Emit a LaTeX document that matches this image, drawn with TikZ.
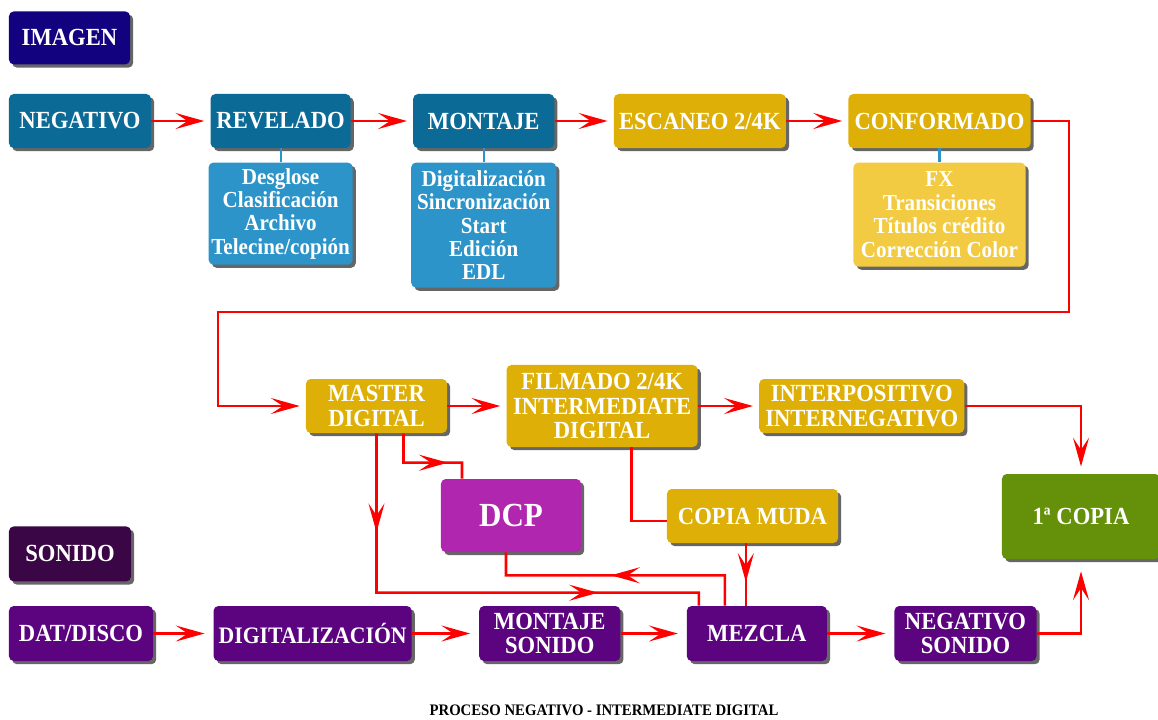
\documentclass[tikz,border=0pt]{standalone}
\usepackage{fontspec}
\setmainfont{Liberation Serif}[FakeStretch=0.92]
\usetikzlibrary{positioning,shadows,arrows.meta,decorations.markings}

\definecolor{imgnavy}{RGB}{18,2,128}
\definecolor{negblue}{RGB}{12,106,150}
\definecolor{skyblue}{RGB}{44,148,200}
\definecolor{gold}{RGB}{222,175,6}
\definecolor{palegold}{RGB}{242,203,66}
\definecolor{dcpmag}{RGB}{176,38,174}
\definecolor{copygreen}{RGB}{100,144,10}
\definecolor{sndpurple}{RGB}{92,4,128}
\definecolor{sndhead}{RGB}{58,6,70}

\tikzset{
  box/.style = {rounded corners=0.12cm, text=white, align=center, inner sep=0pt,
    font=\bfseries\fontsize{17.5}{17.5}\selectfont, minimum height=1.35cm,
    drop shadow={shadow xshift=0.08cm, shadow yshift=-0.08cm, fill=black!80, opacity=0.75}},
  subbox/.style = {box, font=\bfseries\fontsize{16.3}{16.6}\selectfont},
  wire/.style = {red, line width=1.8pt},
  flow/.style = {wire, ->, shorten >=0.15cm},
  midtip/.style = {postaction={decorate, decoration={markings, mark=at position #1 with {\arrow{>}}}}},
  stem/.style = {draw=skyblue, line width=1.5pt}
}

\begin{document}
\begin{tikzpicture}[x=0.025cm, y=-0.025cm, >={Stealth[length=0.72cm, width=0.4cm, inset=0.3cm]}]
\useasboundingbox (0,0) rectangle (1158,719);

\node[box, fill=negblue, minimum width=3.55cm] (negativo) at (80,121) {NEGATIVO};
\node[box, fill=imgnavy, minimum width=3.025cm, minimum height=1.325cm, above=0.725cm of negativo.north west, anchor=south west] (imagen) {IMAGEN};
\node[box, fill=negblue, minimum width=3.5cm, right=1.475cm of negativo] (revelado) {REVELADO};
\node[box, fill=negblue, minimum width=3.525cm, right=1.55cm of revelado] (montaje) {MONTAJE};
\node[box, fill=gold, minimum width=4.3cm, right=1.475cm of montaje] (escaneo) {ESCANEO 2/4K};
\node[box, fill=gold, minimum width=4.55cm, right=1.55cm of escaneo] (conformado) {CONFORMADO};

\node[subbox, fill=skyblue, minimum width=3.6cm, minimum height=2.55cm, below=0.35cm of revelado] (revsub) {Desglose\\Clasificación\\Archivo\\Telecine/copión};
\node[subbox, fill=skyblue, minimum width=3.625cm, minimum height=3.125cm, below=0.35cm of montaje] (montsub) {Digitalización\\Sincronización\\Start\\Edición\\EDL};
\node[subbox, fill=palegold, minimum width=4.3cm, minimum height=2.6cm, below=0.35cm of conformado] (confsub) {FX\\Transiciones\\Títulos crédito\\Corrección Color};

\node[box, fill=gold, minimum width=3.525cm] (master) at (376.5,406) {MASTER\\DIGITAL};
\node[box, fill=gold, minimum width=4.775cm, minimum height=2.05cm, right=1.475cm of master] (filmado) {FILMADO 2/4K\\INTERMEDIATE\\DIGITAL};
\node[box, fill=gold, minimum width=5.125cm, right=1.525cm of filmado] (interpos) {INTERPOSITIVO\\INTERNEGATIVO};
\node[box, fill=dcpmag, minimum width=3.5cm, minimum height=1.825cm, font=\bfseries\fontsize{24}{24}\selectfont] (dcp) at (511,515.5) {DCP};
\node[box, fill=gold, minimum width=4.275cm] (copiamuda) at (752.5,516) {COPIA MUDA};
\node[box, fill=copygreen, minimum width=3.95cm, minimum height=2.125cm] (copia1) at (1081,516.5) {1ª COPIA};

\node[box, fill=sndpurple, minimum width=3.6cm, minimum height=1.375cm] (datdisco) at (81,633.5) {DAT/DISCO};
\node[box, fill=sndhead, minimum width=3.05cm, minimum height=1.375cm, above=0.6cm of datdisco.north west, anchor=south west] (sonido) {SONIDO};
\node[box, fill=sndpurple, minimum width=4.95cm, minimum height=1.375cm, font=\bfseries\fontsize{16.8}{17}\selectfont, right=1.5cm of datdisco] (digital) {DIGITALIZACIÓN};
\node[box, fill=sndpurple, minimum width=3.525cm, minimum height=1.375cm, right=1.675cm of digital] (montsonido) {MONTAJE\\SONIDO};
\node[box, fill=sndpurple, minimum width=3.5cm, minimum height=1.375cm, right=1.65cm of montsonido] (mezcla) {MEZCLA};
\node[box, fill=sndpurple, minimum width=3.55cm, minimum height=1.375cm, right=1.675cm of mezcla] (negsonido) {NEGATIVO\\SONIDO};

\node[font=\bfseries\fontsize{11.4}{12}\selectfont] (caption) at (604,710.5) {PROCESO NEGATIVO - INTERMEDIATE DIGITAL};

\draw[stem] (revelado.south) -- (revsub.north);
\draw[stem] (montaje.south) -- (montsub.north);
\draw[stem] (conformado.south) -- (confsub.north);

\draw[flow] (negativo) -- (revelado);
\draw[flow] (revelado) -- (montaje);
\draw[flow] (montaje) -- (escaneo);
\draw[flow] (escaneo) -- (conformado);
\coordinate (loopR) at (1069,312);
\coordinate (loopL) at (218,312);
\draw[flow] (conformado.east) -| (loopR) -- (loopL) |- (master.west);
\draw[flow] (master) -- (master -| filmado.west);
\draw[flow] (filmado.east |- interpos) -- (interpos);
\draw[flow, shorten >=0.18cm] (interpos.east) -| (copia1.north);

\draw[wire, midtip=0.2, midtip=0.77] (master.south) |- ([shift={(-58,-13)}]mezcla.north) -- ([xshift=-1.45cm]mezcla.north);
\draw[wire, midtip=0.71] ([xshift=0.675cm]master.south) |- ([shift={(-49,-16)}]dcp.north) -- ([xshift=-1.225cm]dcp.north);
\draw[wire, midtip=0.53] ([xshift=-0.8cm]mezcla.north) |- ([shift={(-5,23)}]dcp.south) -- ([xshift=-0.125cm]dcp.south);
\draw[wire] ([xshift=0.7375cm]filmado.south) |- ([yshift=-0.125cm]copiamuda.west);
\draw[wire, midtip=0.62] ([xshift=-0.275cm]mezcla.north |- copiamuda.south) -- ([xshift=-0.275cm]mezcla.north);

\draw[flow, shorten >=0.22cm] (datdisco) -- (digital);
\draw[flow, shorten >=0.22cm] (digital) -- (montsonido);
\draw[flow, shorten >=0.22cm] (montsonido) -- (mezcla);
\draw[flow, shorten >=0.22cm] (mezcla) -- (negsonido);
\draw[flow, shorten >=0.3cm] (negsonido.east) -| (copia1.south);
\end{tikzpicture}
\end{document}
